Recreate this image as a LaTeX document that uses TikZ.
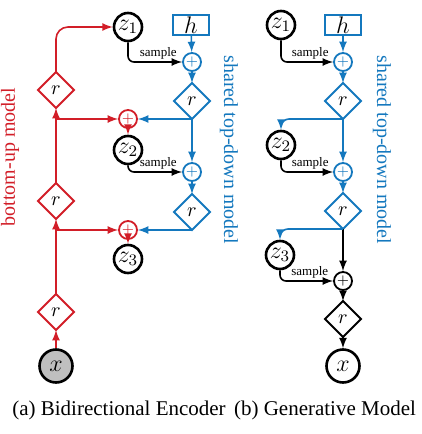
\documentclass[tikz,border=0pt]{standalone}
\usepackage{fontspec}
\setmainfont{Liberation Serif}
\usetikzlibrary{arrows,%
                shapes.geometric}
\definecolor{bured}{RGB}{210,30,40}
\definecolor{tdblue}{RGB}{20,120,190}

\begin{document}
\begin{tikzpicture}[x=0.5pt,y=-0.5pt,>=latex]
  \useasboundingbox (0,0) rectangle (422,434);
  \tikzstyle{latent}=[circle,draw,line width=1.3pt,minimum size=14pt,inner sep=0pt,font=\large]
  \tikzstyle{obs}=[latent,minimum size=16.5pt]
  \tikzstyle{res}=[diamond,draw,line width=1pt,minimum size=18pt,inner sep=0pt,outer sep=0pt]
  \tikzstyle{hbox}=[rectangle,draw=tdblue,line width=1pt,minimum width=18pt,minimum height=10pt,inner sep=0pt,font=\large]
  \tikzstyle{sumnode}=[circle,draw,line width=0.9pt,minimum size=9pt,inner sep=0pt,font=\scriptsize]
  \tikzstyle{conn}=[->,line width=0.8pt]
  \tikzstyle{smp}=[conn,black,rounded corners=3pt]
  \tikzstyle{lbl}=[font=\fontsize{6.5}{7}\selectfont,inner sep=1pt]
  % (a) bidirectional encoder
  \node[obs,fill=gray!50] (xa) at (56,366) {$x$};
  \node[res,draw=bured] (ua3) at (56,312) {$r$};
  \node[res,draw=bured] (ua2) at (56,201) {$r$};
  \node[res,draw=bured] (ua1) at (56,90) {$r$};
  \node[latent] (za1) at (128,27) {$z_1$};
  \node[hbox] (ha) at (191,25) {$h$};
  \node[sumnode,draw=tdblue,text=tdblue] (pa1) at (192,62) {$+$};
  \node[res,draw=tdblue] (ta1) at (192,101) {$r$};
  \node[sumnode,draw=bured,text=bured] (qa2) at (ta1.south -| za1) {$+$};
  \node[latent] (za2) at (128,150) {$z_2$};
  \node[sumnode,draw=tdblue,text=tdblue] (pa2) at (192,172) {$+$};
  \node[res,draw=tdblue] (ta2) at (192,212) {$r$};
  \node[sumnode,draw=bured,text=bured] (qa3) at (ta2.south -| za1) {$+$};
  \node[latent] (za3) at (128,259) {$z_3$};
  \coordinate (ba2) at (qa2 -| ua1);
  \coordinate (ba3) at (qa3 -| ua1);

  \draw[conn,bured] (xa) -- (ua3);
  \draw[conn,bured] (ua3) -- (ua2);
  \draw[conn,bured] (ba3) -- (qa3);
  \draw[conn,bured] (ua2) -- (ua1);
  \draw[conn,bured] (ba2) -- (qa2);
  \draw[conn,bured,rounded corners=6pt] (ua1) |- (za1);
  \draw[conn,bured] (qa2) -- (za2);
  \draw[conn,bured] (qa3) -- (za3);
  \draw[smp] (za1) |- node[lbl,above,pos=0.78] {sample} (pa1);
  \draw[smp] (za2) |- node[lbl,above,pos=0.78] {sample} (pa2);
  \draw[conn,tdblue] (ha) -- (pa1);
  \draw[conn,tdblue] (pa1) -- (ta1);
  \draw[conn,tdblue] (ta1) -- (pa2);
  \draw[conn,tdblue] (ta1.south) -- (qa2);
  \draw[conn,tdblue] (pa2) -- (ta2);
  \draw[conn,tdblue] (ta2.south) -- (qa3);

  \node[bured,rotate=90] (bua) at (10,157) {bottom-up model};
  \node[tdblue,rotate=-90] (tda) at (229,150) {shared top-down model};

  % (b) generative model
  \node[latent] (zb1) at (281,25) {$z_1$};
  \node[hbox] (hb) at (343,25) {$h$};
  \node[sumnode,draw=tdblue,text=tdblue] (pb1) at (343,62) {$+$};
  \node[res,draw=tdblue] (tb1) at (343,101) {$r$};
  \node[latent] (zb2) at (281,145) {$z_2$};
  \node[sumnode,draw=tdblue,text=tdblue] (pb2) at (343,172) {$+$};
  \node[res,draw=tdblue] (tb2) at (343,211) {$r$};
  \node[latent] (zb3) at (280,255) {$z_3$};
  \node[sumnode] (pb3) at (343,281) {$+$};
  \node[res] (sb) at (343,319) {$r$};
  \node[obs] (xb) at (343,366) {$x$};

  \draw[conn,tdblue] (hb) -- (pb1);
  \draw[conn,tdblue] (pb1) -- (tb1);
  \draw[conn,tdblue] (tb1) -- (pb2);
  \draw[conn,tdblue,rounded corners=4pt] (tb1.south) -| (zb2);
  \draw[smp] (zb1) |- node[lbl,above,pos=0.78] {sample} (pb1);
  \draw[smp] (zb2) |- node[lbl,above,pos=0.78] {sample} (pb2);
  \draw[conn,tdblue] (pb2) -- (tb2);
  \draw[conn] (tb2) -- (pb3);
  \draw[conn,tdblue,rounded corners=4pt] (tb2.south) -| (zb3);
  \draw[smp] (zb3) |- node[lbl,above,pos=0.78] {sample} (pb3);
  \draw[conn] (pb3) -- (sb);
  \draw[conn] (sb) -- (xb);

  \node[tdblue,rotate=-90] (tdb) at (382,150) {shared top-down model};

  \node[font=\fontsize{10.5}{12}\selectfont] (capa) at (119,410) {(a) Bidirectional Encoder};
  \node[font=\fontsize{10.5}{12}\selectfont] (capb) at (325,410) {(b) Generative Model};
\end{tikzpicture}
\end{document}
